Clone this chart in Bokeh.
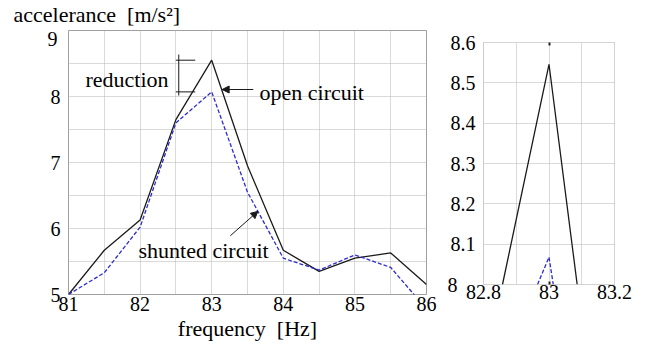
from bokeh.plotting import figure
from bokeh.layouts import row
from bokeh.models import (Label, Arrow, NormalHead, FixedTicker, SingleIntervalTicker,
                          NumeralTickFormatter, Range1d, Title, LinearAxis)
from bokeh.embed import file_html
from bokeh.resources import INLINE

# ---- data ----
freq = [81, 81.5, 82, 82.5, 83, 83.5, 84, 84.5, 85, 85.5, 86]
open_circuit = [5.0, 5.67, 6.13, 7.65, 8.55, 6.95, 5.67, 5.35, 5.55, 5.63, 5.15]
shunted_circuit = [5.0, 5.33, 6.02, 7.6, 8.07, 6.55, 5.55, 5.37, 5.6, 5.41, 4.78]

x_tick_labels = [81, 82, 83, 84, 85, 86]
y_tick_labels = [5, 6, 7, 8]
y_top_label = [9]

# zoomed panel around the peak
zoom_open_x = [82.858, 83.0, 83.086]
zoom_open_y = [8.0, 8.546, 8.0]
zoom_shunt_x = [82.965, 83.0, 83.013]
zoom_shunt_y = [8.0, 8.068, 8.0]
zoom_x_ticks = [82.8, 83.0, 83.2]
zoom_y_ticks = [8.1, 8.2, 8.3, 8.4, 8.5, 8.6]
zoom_y_bottom = [8.0]
zoom_mark_ticks = [83.0]

FONT = "Liberation Serif"
BLACK = "#1a1a1a"
BLUE = "#2b2bd0"
GRID = "#b4b4b4"


def style_axis(ax):
    ax.axis_line_color = None
    ax.major_tick_line_color = None
    ax.minor_tick_line_color = None
    ax.major_tick_out = 0
    ax.major_tick_in = 0
    ax.minor_tick_out = 0
    ax.minor_tick_in = 0
    ax.major_label_text_font = FONT
    ax.major_label_text_font_size = "20px"
    ax.major_label_text_color = "black"


def style_axes(p):
    for ax in (p.xaxis[0], p.yaxis[0]):
        style_axis(ax)
    p.xaxis.major_label_standoff = 2
    p.yaxis.major_label_standoff = 8
    if "frame_align" in p.properties():
        p.frame_align = False


def style_grid(p, xt, yt):
    p.xgrid.ticker = xt
    p.ygrid.ticker = yt
    for g in (p.xgrid[0], p.ygrid[0]):
        g.grid_line_color = GRID
        g.grid_line_dash = "1 1"
        g.grid_line_width = 1


# ---- main panel ----
p1 = figure(width=440, height=346, x_range=Range1d(81, 86), y_range=Range1d(5, 9),
            output_backend="svg", toolbar_location=None,
            min_border_left=68, min_border_right=14, min_border_top=30, min_border_bottom=52)
p1.outline_line_color = "#a0a0a0"
p1.outline_line_width = 1
style_axes(p1)
p1.xaxis.ticker = FixedTicker(ticks=x_tick_labels)
p1.yaxis.ticker = FixedTicker(ticks=y_tick_labels)
p1.xaxis.axis_label = "frequency\u00a0 [Hz]"
p1.xaxis.axis_label_standoff = 2
p1.xaxis.axis_label_text_font = FONT
p1.xaxis.axis_label_text_font_size = "22px"
p1.xaxis.axis_label_text_font_style = "normal"
p1.xaxis.axis_label_text_color = "black"
style_grid(p1, SingleIntervalTicker(interval=0.5), SingleIntervalTicker(interval=0.5))

# top tick label "9" is drawn a little below the frame's top edge (as in the original)
p1.extra_y_ranges = {"nine": Range1d(5.136, 9.136)}
ax9 = LinearAxis(ticker=FixedTicker(ticks=y_top_label), y_range_name="nine")
style_axis(ax9)
ax9.major_label_standoff = -10
p1.add_layout(ax9, "left")

p1.title = Title(text="accelerance\u00a0 [m/s²]", align="left", offset=-55, standoff=3,
                 vertical_align="top", text_font=FONT, text_font_size="22px",
                 text_font_style="normal", text_color="black")

p1.line(freq, open_circuit, line_color=BLACK, line_width=1.3)
p1.line(freq, shunted_circuit, line_color=BLUE, line_width=1.3, line_dash="4 2")

# reduction bracket (between the two peak values)
peak = freq.index(83)
bracket_x = 82.54
p1.segment(x0=[bracket_x], y0=[8.636], x1=[bracket_x], y1=[8.015], line_color=BLACK, line_width=1)
p1.segment(x0=[82.5, 82.5], y0=[open_circuit[peak], shunted_circuit[peak]],
           x1=[82.77, 82.77], y1=[open_circuit[peak], shunted_circuit[peak]],
           line_color=BLACK, line_width=1)

lbl_kw = dict(text_font=FONT, text_font_size="22px", text_color="black", text_baseline="alphabetic")
p1.add_layout(Label(x=81.237, y=8.258, text="reduction", **lbl_kw))
p1.add_layout(Label(x=83.668, y=8.068, text="open circuit", **lbl_kw))
p1.add_layout(Label(x=81.978, y=5.67, text="shunted circuit", **lbl_kw))

p1.add_layout(Arrow(end=NormalHead(size=7, fill_color=BLACK, line_color=BLACK),
                    x_start=83.58, y_start=8.106, x_end=83.146, y_end=8.106,
                    line_color=BLACK, line_width=1))
p1.add_layout(Arrow(end=NormalHead(size=7, fill_color=BLACK, line_color=BLACK),
                    x_start=83.26, y_start=5.89, x_end=83.645, y_end=6.26,
                    line_color=BLACK, line_width=1))

# ---- zoomed panel ----
p2 = figure(width=205, height=346, x_range=Range1d(82.8, 83.2), y_range=Range1d(8.0, 8.6),
            output_backend="svg", toolbar_location=None,
            min_border_left=43, min_border_right=31, min_border_top=42, min_border_bottom=62)
p2.outline_line_color = "#a8a8a8"
p2.outline_line_dash = "1 1"
style_axes(p2)
p2.xaxis.formatter = NumeralTickFormatter(format="0[.]0")
p2.yaxis.formatter = NumeralTickFormatter(format="0[.]0")
p2.xaxis.ticker = FixedTicker(ticks=zoom_x_ticks)
p2.yaxis.ticker = FixedTicker(ticks=zoom_y_ticks)
p2.xaxis.major_label_standoff = 0
style_grid(p2, SingleIntervalTicker(interval=0.1), FixedTicker(ticks=zoom_y_ticks))

# bottom tick label "8" is left-aligned with the other labels
ax8 = LinearAxis(ticker=FixedTicker(ticks=zoom_y_bottom),
                 formatter=NumeralTickFormatter(format="0[.]0"))
style_axis(ax8)
ax8.major_label_standoff = -10
p2.add_layout(ax8, "left")

# small dark tick marks at 83 on the bottom and top edges
bottom_marks = LinearAxis(ticker=FixedTicker(ticks=zoom_mark_ticks))
top_marks = LinearAxis(ticker=FixedTicker(ticks=zoom_mark_ticks))
for ax in (bottom_marks, top_marks):
    style_axis(ax)
    ax.major_tick_line_color = "#222222"
    ax.major_tick_line_width = 2
    ax.major_tick_in = 3
    ax.major_label_text_color = None
    ax.major_label_text_font_size = "1px"
    ax.major_label_standoff = 0
p2.add_layout(top_marks, "above")
p2.below = [bottom_marks] + list(p2.below)

p2.line(zoom_open_x, zoom_open_y, line_color=BLACK, line_width=1.3)
p2.line(zoom_shunt_x, zoom_shunt_y, line_color=BLUE, line_width=1.3, line_dash="4 2")

layout = row(p1, p2)
open("out.html", "w").write(file_html(layout, INLINE))
